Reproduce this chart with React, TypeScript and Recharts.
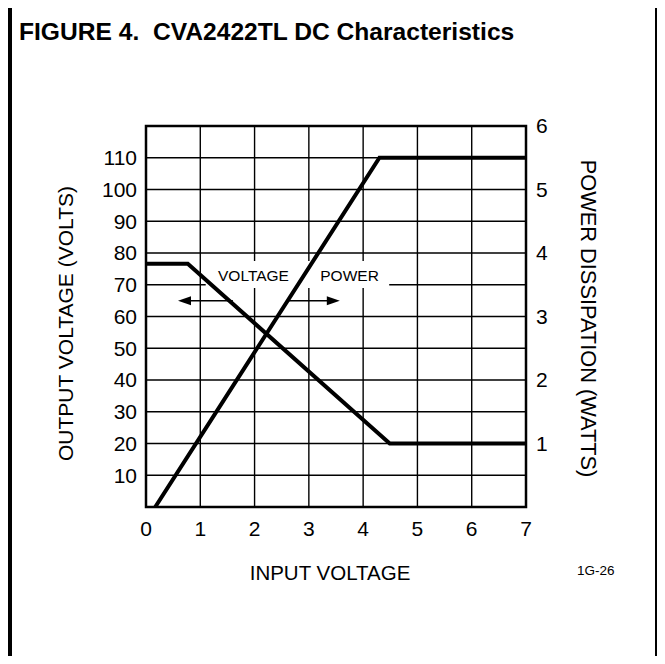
import React from 'react';
import {
  ComposedChart,
  Line,
  XAxis,
  YAxis,
  CartesianGrid,
  ReferenceArea,
  ReferenceLine,
  ReferenceDot,
} from 'recharts';

const FONT = '"Liberation Sans", Arial, Helvetica, sans-serif';

// --- data ---
const inputTicks = [0, 1, 2, 3, 4, 5, 6, 7];
const voltTicks = [10, 20, 30, 40, 50, 60, 70, 80, 90, 100, 110];
const wattTicks = [1, 2, 3, 4, 5, 6];

// output voltage (left axis, volts) vs input voltage
const voltageCurve = [
  { x: 0.17, v: 0 },
  { x: 4.3, v: 110 },
  { x: 7, v: 110 },
];

// power dissipation (right axis, watts) vs input voltage
const powerCurve = [
  { x: 0, w: 3.83 },
  { x: 0.77, w: 3.83 },
  { x: 4.49, w: 1 },
  { x: 7, w: 1 },
];

// annotation arrows: [start, tip] on input axis, at arrowLevel volts
const arrowLevel = 65;
const voltageArrow = [1.6, 0.59];
const powerArrow = [2.58, 3.57];
const tagLevel = 72.8;
const tags = [
  { x: 1.98, text: 'VOLTAGE' },
  { x: 3.75, text: 'POWER' },
];

const arrowHead = (dir: number) => (props: any) => {
  const { cx, cy } = props;
  const len = 13;
  const half = 4.5;
  return (
    <path
      d={`M${cx},${cy} L${cx - dir * len},${cy - half} L${cx - dir * len},${cy + half} Z`}
      fill="#000"
    />
  );
};

const tagText = (text: string) => (props: any) => (
  <text
    x={props.cx}
    y={props.cy}
    textAnchor="middle"
    dominantBaseline="central"
    fontSize={15.5}
    fontFamily={FONT}
    fill="#000"
  >
    {text}
  </text>
);

const LeftTitle = (props: any) => {
  const { viewBox } = props;
  const x = viewBox.x + 65;
  const y = viewBox.y + viewBox.height / 2 + 7;
  return (
    <text transform={`translate(${x},${y}) rotate(-90)`} textAnchor="middle" dominantBaseline="central"
      fontSize={21} fontFamily={FONT} fill="#000">
      OUTPUT VOLTAGE (VOLTS)
    </text>
  );
};

const RightTitle = (props: any) => {
  const { viewBox } = props;
  const x = viewBox.x + 62;
  const y = viewBox.y + viewBox.height / 2 + 2;
  return (
    <text transform={`translate(${x},${y}) rotate(90)`} textAnchor="middle" dominantBaseline="central"
      fontSize={21.8} fontFamily={FONT} fill="#000">
      POWER DISSIPATION (WATTS)
    </text>
  );
};

const BottomTitle = (props: any) => {
  const { viewBox } = props;
  return (
    <text x={viewBox.x + viewBox.width / 2 - 6} y={viewBox.y + 73} textAnchor="middle"
      fontSize={20.5} fontFamily={FONT} fill="#000">
      INPUT VOLTAGE
    </text>
  );
};

const tickStyle = { fontSize: 21, fontFamily: FONT, fill: '#000' };

export default function App() {
  return (
    <div style={{ position: 'relative', width: 665, height: 664, margin: -8, overflow: 'hidden', background: '#fff' }}>
      {/* page frame, open at the bottom */}
      <div style={{ position: 'absolute', left: 8, top: 0, width: 643, height: 700, border: '4px solid #000' }} />
      <div style={{ position: 'absolute', left: 19, top: 18, fontFamily: FONT, fontWeight: 'bold', fontSize: 24.6, whiteSpace: 'nowrap' }}>
        FIGURE 4.&nbsp; CVA2422TL DC Characteristics
      </div>
      <div style={{ position: 'absolute', left: 577, top: 563, fontFamily: FONT, fontSize: 13.5 }}>1G-26</div>

      <div style={{ position: 'absolute', left: 0, top: 0 }}>
        <ComposedChart width={665} height={664} margin={{ top: 126, right: 0, bottom: 0, left: 0 }}>
          <CartesianGrid stroke="#000" strokeWidth={1.4} />
          <XAxis
            dataKey="x"
            type="number"
            domain={[0, 7]}
            ticks={inputTicks}
            height={157}
            axisLine={false}
            tickLine={false}
            tickSize={0}
            tickMargin={14}
            tick={tickStyle}
            label={<BottomTitle />}
          />
          <YAxis
            type="number"
            domain={[0, 120]}
            ticks={voltTicks}
            width={146}
            axisLine={false}
            tickLine={false}
            tickSize={0}
            tickMargin={9}
            tick={tickStyle}
            allowDataOverflow
            label={<LeftTitle />}
          />
          <YAxis
            yAxisId="w"
            orientation="right"
            type="number"
            domain={[0, 6]}
            ticks={wattTicks}
            width={139}
            axisLine={false}
            tickLine={false}
            tickSize={0}
            tickMargin={10}
            tick={tickStyle}
            allowDataOverflow
            label={<RightTitle />}
          />

          {/* white patch behind the VOLTAGE / POWER tags */}
          <ReferenceArea x1={1.1} x2={4.48} y1={69} y2={77.5} fill="#fff" fillOpacity={1} stroke="none" />

          <ReferenceLine segment={[{ x: voltageArrow[0], y: arrowLevel }, { x: voltageArrow[1] + 0.1, y: arrowLevel }]} stroke="#000" strokeWidth={1.5} />
          <ReferenceLine segment={[{ x: powerArrow[0], y: arrowLevel }, { x: powerArrow[1] - 0.1, y: arrowLevel }]} stroke="#000" strokeWidth={1.5} />
          <ReferenceDot x={voltageArrow[1]} y={arrowLevel} r={0} shape={arrowHead(-1)} />
          <ReferenceDot x={powerArrow[1]} y={arrowLevel} r={0} shape={arrowHead(1)} />
          {tags.map((t) => (
            <ReferenceDot key={t.text} x={t.x} y={tagLevel} r={0} shape={tagText(t.text)} />
          ))}

          <Line data={voltageCurve} dataKey="v" type="linear" stroke="#000" strokeWidth={4} dot={false} activeDot={false} isAnimationActive={false} />
          <Line data={powerCurve} dataKey="w" yAxisId="w" type="linear" stroke="#000" strokeWidth={4} dot={false} activeDot={false} isAnimationActive={false} />

          <ReferenceArea x1={0} x2={7} y1={0} y2={120} fill="none" stroke="#000" strokeWidth={2.5} />
        </ComposedChart>
      </div>
    </div>
  );
}
